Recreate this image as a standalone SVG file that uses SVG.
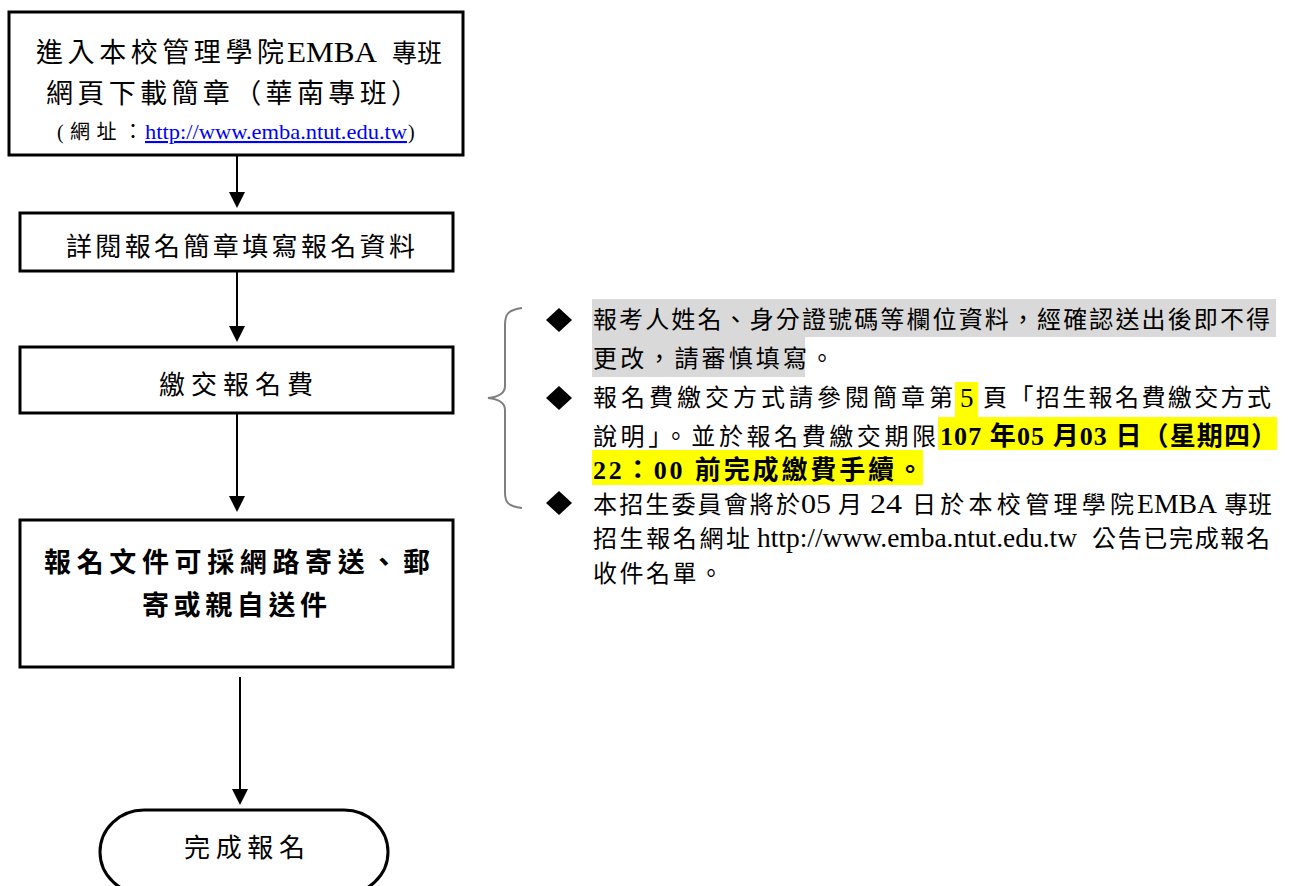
<svg xmlns="http://www.w3.org/2000/svg" width="1294" height="886" viewBox="0 0 1294 886">
<style>
.box{fill:#fff;stroke:#000;stroke-width:3}
.t{font-family:"Liberation Serif","Noto Sans CJK TC",serif;fill:#000}
.c{stroke:#000;stroke-width:2;fill:none}
.b{font-weight:bold}
.r{font-size:24px}
.l{font-size:27px}
</style>
<rect width="1294" height="886" fill="#fff"/>
<g id="connectors">
<path class="c" d="M237,155 V192"/>
<path d="M229,192 L245,192 L237,208 Z"/>
<path class="c" d="M237,271 V326"/>
<path d="M229,326 L245,326 L237,342 Z"/>
<path class="c" d="M237,413 V496"/>
<path d="M229,496 L245,496 L237,512 Z"/>
<path class="c" d="M240,677 V789"/>
<path d="M232,789 L248,789 L240,805 Z"/>
</g>
<g id="n1">
<rect class="box" x="9" y="12" width="454" height="143"/>
<text class="t" x="36" y="62" font-size="27" textLength="248" lengthAdjust="spacing">進入本校管理學院</text>
<text class="t" x="287" y="62" font-size="29" textLength="90" lengthAdjust="spacingAndGlyphs">EMBA</text>
<text class="t" x="392" y="62" font-size="25">專班</text>
<text class="t" x="46" y="103" font-size="27" textLength="372" lengthAdjust="spacing">網頁下載簡章（華南專班）</text>
<text class="t" x="57" y="139" font-size="20" textLength="86" lengthAdjust="spacing">(網址：</text>
<text class="t" x="145" y="139" font-size="21" style="fill:#0000ff" text-decoration="underline" textLength="262" lengthAdjust="spacingAndGlyphs">http://www.emba.ntut.edu.tw</text>
<text class="t" x="408" y="139" font-size="20">)</text>
</g>
<g id="n2">
<rect class="box" x="20" y="213" width="433" height="58"/>
<text class="t" x="66" y="256" font-size="26" textLength="349" lengthAdjust="spacing">詳閱報名簡章填寫報名資料</text>
</g>
<g id="n3">
<rect class="box" x="20" y="347" width="433" height="66"/>
<text class="t" x="159" y="394" font-size="26" textLength="154" lengthAdjust="spacing">繳交報名費</text>
</g>
<g id="n4">
<rect class="box" x="20" y="520" width="433" height="147"/>
<text class="t b" x="44" y="572" font-size="27" textLength="386" lengthAdjust="spacing">報名文件可採網路寄送、郵</text>
<text class="t b" x="142" y="615" font-size="27" textLength="185" lengthAdjust="spacing">寄或親自送件</text>
</g>
<g id="n5">
<rect class="box" x="100" y="810" width="288" height="84" rx="44" ry="42"/>
<text class="t" x="184" y="857" font-size="26" textLength="121" lengthAdjust="spacing">完成報名</text>
</g>
<g id="notes">
<path d="M522,308 C508,310 505,314 505,325 V386 C505,394 498,397 488,398 C498,399 505,402 505,410 V492 C505,503 508,506 522,508" fill="none" stroke="#7f7f7f" stroke-width="2"/>
<rect x="592" y="299" width="684" height="38" fill="#d9d9d9"/>
<rect x="592" y="337" width="213" height="40" fill="#d9d9d9"/>
<rect x="955" y="382" width="23" height="35" fill="#ffff00"/>
<rect x="938" y="417" width="339" height="33" fill="#ffff00"/>
<rect x="592" y="450" width="331" height="35" fill="#ffff00"/>
<path d="M559,308 L572,320 L559,332 L546,320 Z"/>
<path d="M559,386 L572,398 L559,410 L546,398 Z"/>
<path d="M559,491 L572,503 L559,515 L546,503 Z"/>
<text class="t r" x="593" y="328" textLength="677" lengthAdjust="spacing">報考人姓名、身分證號碼等欄位資料，經確認送出後即不得</text>
<text class="t r" x="593" y="367" textLength="241" lengthAdjust="spacing">更改，請審慎填寫。</text>
<text class="t r" x="593" y="406" textLength="360" lengthAdjust="spacing">報名費繳交方式請參閱簡章第</text>
<text class="t l" x="960" y="407">5</text>
<text class="t r" x="983" y="406" textLength="288" lengthAdjust="spacing">頁「招生報名費繳交方式</text>
<text class="t r" x="593" y="445" textLength="343" lengthAdjust="spacing">說明」。並於報名費繳交期限</text>
<text class="t b" x="940" y="445" font-size="26" textLength="337" lengthAdjust="spacing">107 年05 月03 日（星期四）</text>
<text class="t b" x="593" y="479" font-size="26" textLength="330" lengthAdjust="spacing">22：00 前完成繳費手續。</text>
<text class="t r" x="593" y="513" textLength="207" lengthAdjust="spacing">本招生委員會將於</text>
<text class="t l" x="801" y="513" textLength="30" lengthAdjust="spacingAndGlyphs">05</text>
<text class="t r" x="838" y="513">月</text>
<text class="t l" x="870" y="513" textLength="32" lengthAdjust="spacingAndGlyphs">24</text>
<text class="t r" x="912" y="513" textLength="222" lengthAdjust="spacing">日於本校管理學院</text>
<text class="t l" x="1137" y="513" textLength="80" lengthAdjust="spacingAndGlyphs">EMBA</text>
<text class="t r" x="1224" y="513">專班</text>
<text class="t r" x="593" y="547" textLength="157" lengthAdjust="spacing">招生報名網址</text>
<text class="t l" x="757" y="547" textLength="320" lengthAdjust="spacingAndGlyphs">http://www.emba.ntut.edu.tw</text>
<text class="t r" x="1092" y="547" textLength="178" lengthAdjust="spacing">公告已完成報名</text>
<text class="t r" x="593" y="582" textLength="130" lengthAdjust="spacing">收件名單。</text>
</g>
</svg>
